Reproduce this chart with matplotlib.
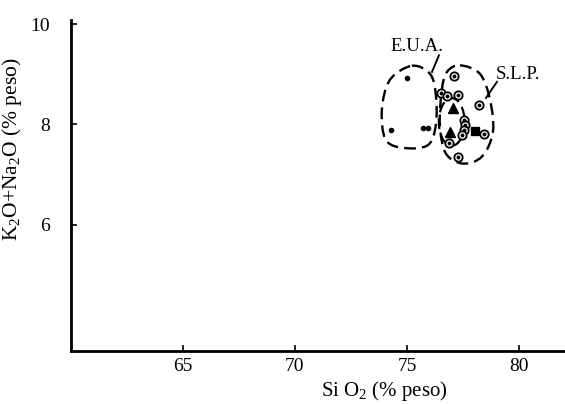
import numpy as np
import matplotlib
matplotlib.use("Agg")
import matplotlib.pyplot as plt
from matplotlib.path import Path
from matplotlib.patches import PathPatch, Ellipse

plt.rcParams['font.family'] = ['Liberation Serif', 'DejaVu Serif']
plt.rcParams['mathtext.fontset'] = 'custom'
plt.rcParams['mathtext.rm'] = 'Liberation Serif'
plt.rcParams['mathtext.it'] = 'Liberation Serif'

# ---- data ----
eua_x = [75.0, 74.3, 75.7, 75.95]
eua_y = [8.93, 7.88, 7.93, 7.93]

slp_x = [77.1, 76.5, 76.8, 77.3, 78.2, 77.55, 77.6, 77.55, 77.45, 78.45, 76.9, 77.3]
slp_y = [8.96, 8.62, 8.56, 8.58, 8.38, 8.08, 7.98, 7.88, 7.78, 7.80, 7.63, 7.35]

tri_x = [77.05, 76.92]
tri_y = [8.33, 7.85]

sq_x = [78.05]
sq_y = [7.87]

# outlines of the dashed fields
eua_field_x = [75.22, 76.03, 76.29, 76.29, 75.94, 74.91, 74.06, 73.88, 74.24]
eua_field_y = [9.17, 9.01, 8.59, 7.99, 7.59, 7.53, 7.69, 8.29, 8.89]
slp_field_x = [77.37, 78.26, 78.71, 78.84, 78.35, 77.50, 76.74, 76.47, 76.56, 76.79]
slp_field_y = [9.18, 9.01, 8.49, 7.85, 7.36, 7.22, 7.42, 7.99, 8.69, 9.05]

xticks = [65, 70, 75, 80]
yticks = [6, 8, 10]


def closed_smooth_path(xs, ys):
    pts = np.column_stack([xs, ys])
    n = len(pts)
    verts = [pts[0]]
    codes = [Path.MOVETO]
    for i in range(n):
        p0 = pts[(i - 1) % n]
        p1 = pts[i]
        p2 = pts[(i + 1) % n]
        p3 = pts[(i + 2) % n]
        c1 = p1 + (p2 - p0) / 6.0
        c2 = p2 - (p3 - p1) / 6.0
        verts += [c1, c2, p2]
        codes += [Path.CURVE4] * 3
    return Path(verts, codes)


fig = plt.figure(figsize=(5.65, 4.04), dpi=100)
ax = fig.add_axes([0.1257, 0.1312, 0.872, 0.82])

dash = (0, (5, 2.6))
for fx, fy in [(eua_field_x, eua_field_y), (slp_field_x, slp_field_y)]:
    ax.add_patch(PathPatch(closed_smooth_path(fx, fy), fill=False,
                           edgecolor='black', lw=1.7, linestyle=dash))
# small inner field around the triangles
ax.add_patch(Ellipse((77.0, 8.05), 1.15, 0.95, fill=False, edgecolor='black',
                     lw=1.6, linestyle=dash))

ax.plot(eua_x, eua_y, 'o', color='black', ms=3.0, ls='none')
ax.plot(slp_x, slp_y, 'o', mfc='white', mec='black', mew=1.3, ms=6.0, ls='none')
ax.plot(slp_x, slp_y, 'o', color='black', ms=1.8, ls='none')
ax.plot(tri_x, tri_y, '^', color='black', ms=6.5, ls='none')
ax.plot(sq_x, sq_y, 's', color='black', ms=5.5, ls='none')

# labels with pointer lines
ax.text(75.45, 9.56, 'E.U.A.', fontsize=13.5, ha='center', va='center')
ax.plot([76.43, 76.12], [9.38, 9.05], color='black', lw=1.4)
ax.text(79.96, 8.99, 'S.L.P.', fontsize=13.5, ha='center', va='center')
ax.plot([79.02, 78.53], [8.85, 8.53], color='black', lw=1.4)

ax.set_xlim(60, 82)
ax.set_ylim(3.48, 10.09)
ax.set_xticks(xticks)
ax.set_yticks(yticks)
ax.tick_params(direction='in', length=4, width=1.2, labelsize=14)
ax.tick_params(axis='y', pad=15)
ax.tick_params(axis='x', pad=5)
for s in ['top', 'right']:
    ax.spines[s].set_visible(False)
for s in ['left', 'bottom']:
    ax.spines[s].set_linewidth(2.0)

ax.set_xlabel('Si O$_2$ (% peso)', fontsize=15)
ax.xaxis.set_label_coords(0.635, -0.085)
ax.set_ylabel('K$_2$O+Na$_2$O (% peso)', fontsize=15.5)
ax.yaxis.set_label_coords(-0.095, 0.61)

fig.savefig('out.png', dpi=100)
